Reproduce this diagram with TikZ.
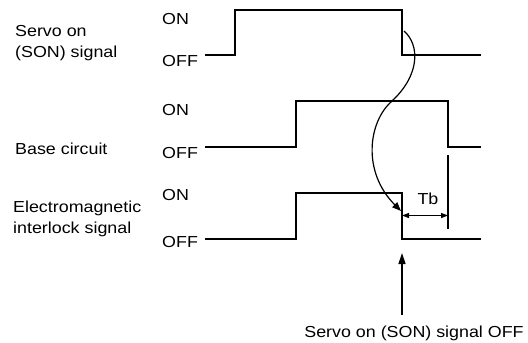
\documentclass[tikz,border=0pt]{standalone}
\usepackage{fontspec}
\setmainfont{Liberation Sans}[FakeStretch=1.12]
\usetikzlibrary{arrows.meta,positioning,calc}
\tikzset{
  wave/.style={line width=2bp,line join=miter},
  level/.style={anchor=west,inner sep=0pt,font=\fontsize{16}{21}\selectfont},
  signame/.style={anchor=west,inner sep=0pt,align=left,font=\fontsize{16}{21}\selectfont},
  note/.style={inner sep=0pt,font=\fontsize{16}{21}\selectfont},
  cause/.style={-{Triangle[length=9bp,width=7bp]},line width=1.2bp},
  span/.style={{Triangle[length=7bp,width=5bp]}-{Triangle[length=7bp,width=5bp]},line width=1.2bp},
  pointer/.style={-{Triangle[length=11bp,width=7bp]},line width=1.4bp}
}
\begin{document}
\begin{tikzpicture}[x=1bp,y=-1bp]
    \useasboundingbox (0,0) rectangle (528,342);
    \node[signame] (son) at (15,43) {Servo on\\(SON) signal};
    \node[signame] (base) at (15,149) {Base circuit};
    \node[signame] (eml) at (13,219) {Electromagnetic\\interlock signal};
    \node[level] (sonon) at (162,19) {ON};
    \node[level] (sonoff) at (162,61.5) {OFF};
    \node[level] (baseon) at (162,110) {ON};
    \node[level] (baseoff) at (162,153) {OFF};
    \node[level] (emlon) at (162,195) {ON};
    \node[level] (emloff) at (162,242) {OFF};
    \draw[wave] (205,55) -- (235,55) -- (235,10) -- (402,10) -- (402,55) -- (481,55);
    \draw[wave] (205,147) -- (296,147) -- (296,101) -- (448,101) -- (448,147) -- (481,147);
    \draw[wave] (205,239) -- (296,239) -- (296,193) -- (402,193) -- (402,239) -- (481,239);
    \coordinate (sonfall) at (404,31);
    \coordinate (emlfall) at (401,211);
    \draw[cause] (sonfall) .. controls (420,45) and (420,75) .. (392,101)
      .. controls (368,122) and (362,172) .. (emlfall);
    \coordinate (tbstart) at (402,215.5);
    \coordinate (tbend) at (448,215.5);
    \draw[line width=1.4bp] (448,155) -- (448,229);
    \draw[span] (tbstart) -- (tbend);
    \node[note] (tb) at (428,199) {Tb};
    \node[note] (off) at (414,333) {Servo on (SON) signal OFF};
    \coordinate (tail) at (402,315);
    \coordinate (head) at (402,253);
    \draw[pointer] (tail) -- (head);
  \end{tikzpicture}
\end{document}
